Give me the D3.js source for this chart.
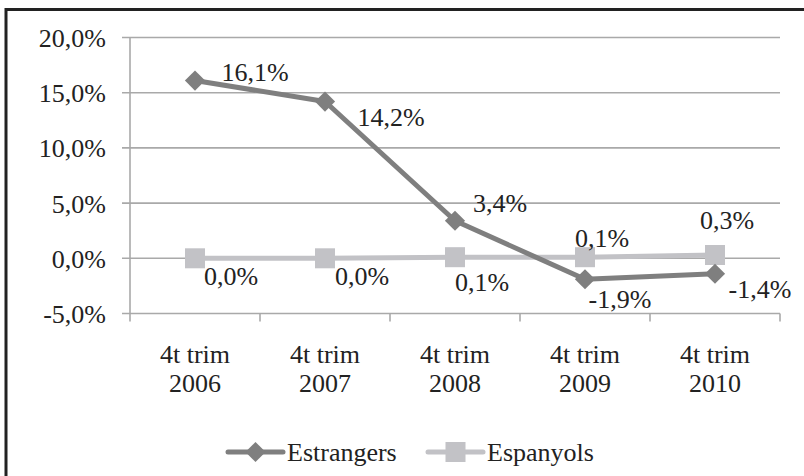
<!DOCTYPE html>
<html><head><meta charset="utf-8">
<script src="https://cdn.jsdelivr.net/npm/d3@7"></script>
<style>
html,body{margin:0;padding:0;background:#fff;}
svg{display:block;}
.ser{font-family:"Liberation Serif",serif !important;}
</style></head>
<body>
<svg id="fig" width="804" height="476"></svg>
<script>
const categories = [["4t trim","2006"],["4t trim","2007"],["4t trim","2008"],["4t trim","2009"],["4t trim","2010"]];
const seriesNames = ["Estrangers","Espanyols"];
const estrangers = [16.1, 14.2, 3.4, -1.9, -1.4];
const espanyols = [0.0, 0.0, 0.1, 0.1, 0.3];
const yTicks = [-5, 0, 5, 10, 15, 20];

// label offsets (layout only)
const offEstr = [[60,0],[66,24],[45,-9],[35,29],[45,24]];
const offEsp = [[36,27],[37,27],[27,34],[17,-10],[12,-26]];

const svg = d3.select("#fig");
const fmt = v => d3.format(".1f")(v).replace(".", ",").replace("\u2212", "-") + "%";
const TXT = "#222";

// outer frame
svg.append("rect").attr("x",6).attr("y",9.5).attr("width",820).attr("height",500)
  .attr("fill","none").attr("stroke","#222").attr("stroke-width",3);

const left = 130, right = 780;
const x = d3.scaleBand().domain(d3.range(categories.length)).range([left, right]);
const y = d3.scaleLinear().domain([-5, 20]).range([313.5, 37.5]);
const cx = i => x(i) + x.bandwidth()/2;

// gridlines
svg.append("g").selectAll("line").data(yTicks).join("line")
  .attr("x1", left - 8).attr("x2", right)
  .attr("y1", d => y(d)).attr("y2", d => y(d))
  .attr("stroke", "#a9a9a9").attr("stroke-width", 1.6);

// y axis line
svg.append("line").attr("x1",left).attr("x2",left).attr("y1",y(20)).attr("y2",y(-5))
  .attr("stroke","#a9a9a9").attr("stroke-width",1.6);

// x ticks
svg.append("g").selectAll("line").data(d3.range(categories.length+1)).join("line")
  .attr("x1", i => left + i*x.bandwidth()).attr("x2", i => left + i*x.bandwidth())
  .attr("y1", y(-5)).attr("y2", y(-5)+8)
  .attr("stroke","#a9a9a9").attr("stroke-width",1.6);

function styleText(sel){
  return sel.attr("class","ser").style("font-family",d=>"'Liberation Serif'").attr("font-size",26).attr("fill",TXT);
}

// y labels
styleText(svg.append("g").selectAll("text").data(yTicks).join("text")
  .attr("x", 106).attr("y", d => y(d) + 9.5)
  .attr("text-anchor","end"))
  .text(d => fmt(d));

// x labels
const xl = styleText(svg.append("g").selectAll("text").data(categories).join("text")
  .attr("text-anchor","middle"));
xl.append("tspan").attr("x",(d,i)=>cx(i)).attr("y",363).text(d=>d[0]);
xl.append("tspan").attr("x",(d,i)=>cx(i)).attr("y",392).text(d=>d[1]);

const line = d3.line().x((d,i)=>cx(i)).y(d=>y(d));
const cEstr = "#7f7f7f", cEsp = "#c2c2c6";

// Espanyols
svg.append("path").datum(espanyols).attr("d",line).attr("fill","none")
  .attr("stroke",cEsp).attr("stroke-width",5);
svg.append("g").selectAll("rect").data(espanyols).join("rect")
  .attr("x",(d,i)=>cx(i)-10).attr("y",d=>y(d)-10).attr("width",20).attr("height",20)
  .attr("fill",cEsp);

// Estrangers
svg.append("path").datum(estrangers).attr("d",line).attr("fill","none")
  .attr("stroke",cEstr).attr("stroke-width",5).attr("stroke-linejoin","round");
const diamond = d3.symbol().type(d3.symbolDiamond2).size(260);
svg.append("g").selectAll("path").data(estrangers).join("path")
  .attr("d", diamond).attr("transform",(d,i)=>`translate(${cx(i)},${y(d)})`)
  .attr("fill",cEstr);

// data labels
styleText(svg.append("g").selectAll("text").data(estrangers).join("text")
  .attr("x",(d,i)=>cx(i)+offEstr[i][0]).attr("y",(d,i)=>y(d)+offEstr[i][1])
  .attr("text-anchor","middle")).text(d=>fmt(d));
styleText(svg.append("g").selectAll("text").data(espanyols).join("text")
  .attr("x",(d,i)=>cx(i)+offEsp[i][0]).attr("y",(d,i)=>y(d)+offEsp[i][1])
  .attr("text-anchor","middle")).text(d=>fmt(d));

// legend
const lg = svg.append("g");
const items = [{name:seriesNames[0], c:cEstr, x0:228, type:"d"},{name:seriesNames[1], c:cEsp, x0:428, type:"s"}];
items.forEach(it=>{
  lg.append("line").attr("x1",it.x0).attr("x2",it.x0+55).attr("y1",452).attr("y2",452)
    .attr("stroke",it.c).attr("stroke-width",5).attr("stroke-linecap","round");
  if(it.type==="d"){
    lg.append("path").attr("d",diamond).attr("transform",`translate(${it.x0+27.5},452)`).attr("fill",it.c);
  } else {
    lg.append("rect").attr("x",it.x0+17.5).attr("y",442).attr("width",20).attr("height",20).attr("fill",it.c);
  }
  styleText(lg.append("text").datum(it.name).attr("x",it.x0+59).attr("y",461)).text(it.name);
});
</script>
</body></html>
